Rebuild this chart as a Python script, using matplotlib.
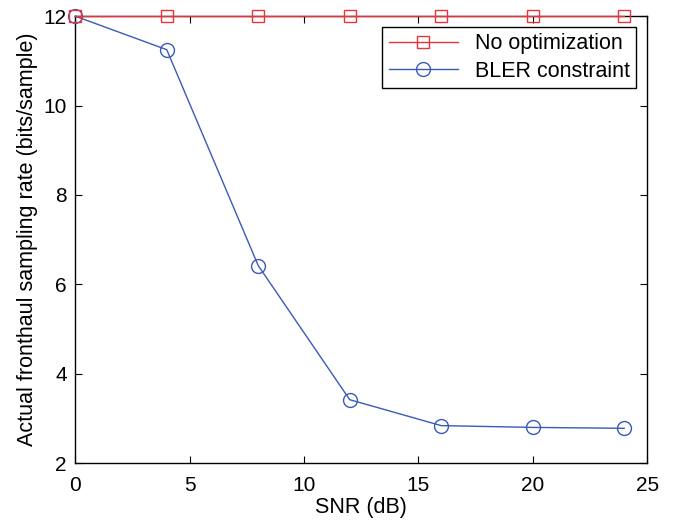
import numpy as np
import matplotlib.pyplot as plt

plt.rcParams['font.family'] = ['Liberation Sans', 'DejaVu Sans']

# SNR points and sampling rates
snr = np.array([0, 4, 8, 12, 16, 20, 24])
no_opt = np.array([12, 12, 12, 12, 12, 12, 12])
bler = np.array([12.0, 11.25, 6.42, 3.42, 2.84, 2.80, 2.78])

fig = plt.figure(figsize=(6.84, 5.21), dpi=100)
ax = fig.add_axes([0.110, 0.111, 0.836, 0.858])

ax.plot(snr, no_opt, color='#e8333a', lw=1.0, marker='s', ms=8,
        mfc='none', mec='#e8333a', mew=1.0, label='No optimization',
        clip_on=False, zorder=5)
ax.plot(snr, bler, color='#3a5bb5', lw=1.0, marker='o', ms=10,
        mfc='none', mec='#3a5bb5', mew=1.0, label='BLER constraint',
        clip_on=False, zorder=4)

ax.set_xlim(0, 25)
ax.set_ylim(2, 12)
ax.set_xticks([0, 5, 10, 15, 20, 25])
ax.set_yticks([2, 4, 6, 8, 10, 12])
ax.tick_params(direction='in', top=True, right=True, labelsize=15, length=5, pad=6)
ax.tick_params(axis='x', pad=9)
for s in ax.spines.values():
    s.set_linewidth(1.0)

ax.set_xlabel('SNR (dB)', fontsize=15.5, labelpad=2)
ax.set_ylabel('Actual fronthaul sampling rate (bits/sample)', fontsize=15.5, labelpad=4)

leg = ax.legend(loc='upper right', fontsize=15.5, fancybox=False, edgecolor='black',
                framealpha=1, borderaxespad=0.5, handlelength=3.2, borderpad=0.3,
                labelspacing=0.3)
leg.get_frame().set_linewidth(1.0)
leg.set_zorder(10)

fig.savefig('out.png', dpi=100)
